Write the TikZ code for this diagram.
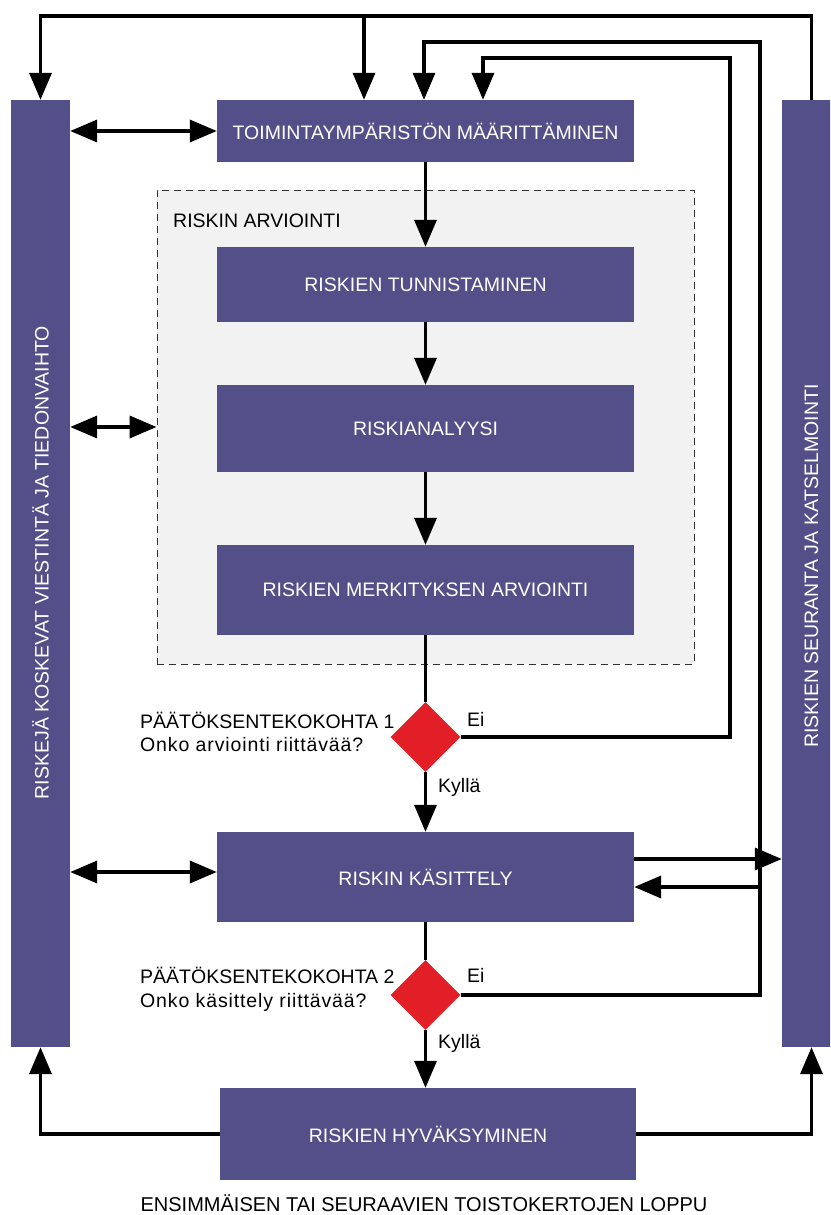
\documentclass[tikz,border=0pt]{standalone}
\usepackage{fontspec}
\setmainfont{Liberation Sans}
\usetikzlibrary{arrows.meta,shapes.geometric}
\definecolor{boxcol}{RGB}{83,79,137}
\definecolor{decred}{RGB}{226,31,38}
\definecolor{panel}{RGB}{242,242,242}
\tikzset{
  txt/.style={font=\fontsize{19.5}{22}\selectfont, inner sep=0pt},
  question/.style={txt, font=\fontsize{19.5}{22}\selectfont\addfontfeature{LetterSpace=4.5}},
  box/.style={fill=boxcol, text=white, minimum width=417pt, inner sep=0pt,
              font=\fontsize{19.5}{22}\selectfont},
  bar/.style={fill=boxcol, minimum width=59pt, minimum height=947pt, inner sep=0pt},
  bartext/.style={text=white, rotate=90, inner sep=0pt, font=\fontsize{19.5}{22}\selectfont},
  decision/.style={diamond, fill=decred, minimum width=70pt, minimum height=70pt,
                   inner sep=0pt, aspect=1},
  link/.style={line width=3.6pt, draw=black},
  flow/.style={link, -{Triangle[length=27pt,width=22pt]}},
  dbl/.style={link, {Triangle[length=27pt,width=22pt]}-{Triangle[length=27pt,width=22pt]}},
}
\begin{document}
\begin{tikzpicture}[x=1pt,y=-1pt]
\useasboundingbox (0,0) rectangle (830,1215);
\clip (0,0) rectangle (830,1215);

% risk assessment panel
\node[fill=panel, draw=black!80, line width=0.9pt, dash pattern=on 7pt off 5pt,
      minimum width=537pt, minimum height=474pt, inner sep=0pt] (assess) at (425.5,427) {};
\node[txt, anchor=base west] (assesslabel) at (173,227) {RISKIN ARVIOINTI};

% side bars
\node[bar] (lbar) at (40.5,573.5) {};
\node[bartext] (ltext) at (40.5,562.5) {RISKEJÄ KOSKEVAT VIESTINTÄ JA TIEDONVAIHTO};
\node[bar] (rbar) at (811.5,573.5) {};
\node[bartext] (rtext) at (811.5,566) {RISKIEN SEURANTA JA KATSELMOINTI};

% process steps
\node[box, minimum height=62pt] (toim) at (425.5,131) {TOIMINTAYMPÄRISTÖN MÄÄRITTÄMINEN};
\node[box, minimum height=75pt] (tunn) at (425.5,284.5) {RISKIEN TUNNISTAMINEN};
\node[box, minimum height=87pt] (anal) at (425.5,428.5) {RISKIANALYYSI};
\node[box, minimum height=90pt] (merk) at (425.5,590) {RISKIEN MERKITYKSEN ARVIOINTI};
\node[box, minimum height=90pt] (kas) at (425.5,877) {RISKIN KÄSITTELY};
\node[box, minimum width=416pt, minimum height=92pt] (hyv) at (428,1134) {RISKIEN HYVÄKSYMINEN};

% decision points
\node[decision] (dia1) at (425.5,737) {};
\node[decision] (dia2) at (425.5,995) {};

\node[txt, anchor=base west] (q1a) at (140,728) {PÄÄTÖKSENTEKOKOHTA 1};
\node[question, anchor=base west] (q1b) at (140,751) {Onko arviointi riittävää?};
\node[txt, anchor=base west] (q2a) at (140,983) {PÄÄTÖKSENTEKOKOHTA 2};
\node[question, anchor=base west] (q2b) at (140,1007) {Onko käsittely riittävää?};
\node[txt, anchor=base west] (ei1) at (467,726) {Ei};
\node[txt, anchor=base west] (ky1) at (438,792) {Kyllä};
\node[txt, anchor=base west] (ei2) at (467,982) {Ei};
\node[txt, anchor=base west] (ky2) at (438,1048) {Kyllä};

\node[txt, anchor=base, font=\fontsize{20}{22}\selectfont] (endnote) at (424,1211)
  {ENSIMMÄISEN TAI SEURAAVIEN TOISTOKERTOJEN LOPPU};

% main flow
\draw[flow] (toim.south) -- (tunn.north);
\draw[flow] (tunn.south) -- (anal.north);
\draw[flow] (anal.south) -- (merk.north);
\draw[link] (merk.south) -- (dia1.north);
\draw[flow] (dia1.south) -- (kas.north);
\draw[link] (kas.south) -- (dia2.north);
\draw[flow] (dia2.south) -- (dia2.south |- hyv.north);

% monitoring loop over the top
\coordinate (tr) at (811.5,16);
\coordinate (tl) at (40.5,16);
\coordinate (tm) at (364,16);
\draw[flow] (rbar.north) -- (tr) -- (tl) -- (lbar.north);
\draw[flow] (tm) -- (tm |- toim.north);

% "Ei" returns
\coordinate (r1a) at (730,737);
\coordinate (r1b) at (730,58);
\coordinate (r1c) at (483,58);
\draw[flow] (dia1.east) -- (r1a) -- (r1b) -- (r1c) -- (r1c |- toim.north);
\coordinate (r2a) at (760,995);
\coordinate (r2b) at (760,42);
\coordinate (r2c) at (424,42);
\draw[flow] (dia2.east) -- (r2a) -- (r2b) -- (r2c) -- (r2c |- toim.north);

% treatment to monitoring and back
\draw[flow] (kas.east |- 0,859) -- (rbar.west |- 0,859);
\coordinate (kb) at (760,887);
\draw[flow] (kb) -- (kas.east |- kb);

% communication links
\draw[dbl] (lbar.east |- toim.west) -- (toim.west);
\draw[dbl] (lbar.east |- 0,427) -- (assess.west |- 0,427);
\draw[dbl] (lbar.east |- 0,872) -- (kas.west |- 0,872);

% acceptance to both bars
\draw[flow] (hyv.west) -| (lbar.south);
\draw[flow] (hyv.east) -| (rbar.south);
\end{tikzpicture}
\end{document}
